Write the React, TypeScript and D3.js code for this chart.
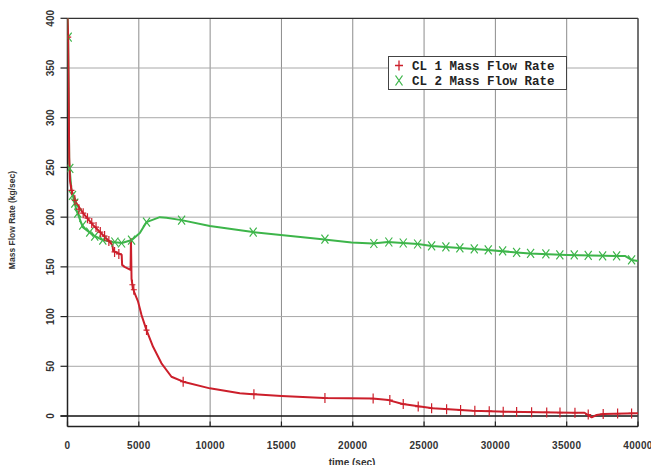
import React from "react";
import * as d3 from "d3";

// ---- data ----
const cl1Time = [0, 40, 80, 120, 180, 280, 630, 1090, 1800, 2380, 2970, 3150, 3200, 3500, 3800, 3830, 4000, 4420, 4450, 4490, 4520, 4600, 4720, 4950, 5190, 5540, 6000, 6590, 7290, 8110, 9980, 12080, 15000, 18000, 21400, 22500, 23500, 25600, 28400, 30800, 33100, 35400, 36250, 36750, 37100, 37560, 39900, 40000];
const cl1Value = [400, 385, 330, 260, 236, 227, 214, 204, 192, 183.5, 175, 172, 166, 164, 162, 152, 150, 147, 178, 138, 135, 128, 123, 115, 101.5, 86.4, 69.6, 53, 39.5, 34.5, 27.8, 22.8, 20, 18, 17.5, 16, 12, 7.7, 5.3, 4.3, 3.7, 3.3, 3.3, -1.3, 1, 2, 2.7, 2.7];

const cl2Time = [0, 40, 80, 120, 160, 280, 630, 1070, 1775, 2475, 3180, 3810, 4510, 5070, 5540, 6470, 6940, 8000, 9980, 13000, 17690, 19920, 21410, 22110, 22460, 24570, 25530, 27510, 29480, 31490, 32420, 35000, 38500, 39080, 39550, 40000];
const cl2Value = [400, 385, 320, 255, 247, 227, 207, 190, 182, 177, 175, 174, 177, 184, 195, 200, 199.5, 197, 191, 185, 178, 174.5, 173.5, 174.5, 175, 173, 171, 169, 167, 164.5, 163.5, 162, 161, 161, 157, 156];

const cl1MarkTime = [50, 280, 520, 800, 1100, 1400, 1700, 2000, 2300, 2600, 2900, 3300, 3600, 4550, 4650, 5540, 8110, 13070, 18050, 21430, 22600, 23540, 24590, 25530, 26580, 27560, 28560, 29570, 30550, 31490, 32540, 33600, 34530, 35580, 36510, 37560, 38570, 39550];
const cl1MarkValue = [381, 227, 217, 208, 204, 199, 194, 190, 185, 181, 176, 165, 163, 132, 127, 86.4, 34.5, 22, 18, 17.5, 16, 12, 9.5, 7.8, 6.8, 6, 5.3, 4.9, 4.4, 4.1, 3.8, 3.6, 3.4, 3.3, 1.5, 2, 2.4, 2.6];

const cl2MarkTime = [50, 160, 350, 510, 720, 1070, 1560, 1910, 2475, 3320, 3790, 4490, 5540, 8000, 13020, 18050, 21480, 22530, 23540, 24550, 25530, 26530, 27510, 28520, 29500, 30510, 31490, 32470, 33540, 34520, 35530, 36510, 37520, 38500, 39550];
const cl2MarkValue = [381, 249, 222, 214, 204, 192, 185, 181, 177, 175, 174, 177, 195, 197, 185, 178, 173.5, 175, 174, 173, 171, 170, 169, 168, 167, 166, 164.5, 163.5, 163, 162, 162, 161.5, 161, 161, 157];

const xTicks = [0, 5000, 10000, 15000, 20000, 25000, 30000, 35000, 40000];
const yTicks = [0, 50, 100, 150, 200, 250, 300, 350, 400];
const seriesNames = ["CL 1 Mass Flow Rate", "CL 2 Mass Flow Rate"];

const RED = "#cc1f2b";
const GREEN = "#3db54a";

export default function App() {
  const W = 651, H = 465;
  const left = 67.5, right = 638, top = 18.3, zeroY = 416, bottom = 426.5;
  const x = d3.scaleLinear().domain([0, 40000]).range([left, right]);
  const y = d3.scaleLinear().domain([0, 400]).range([zeroY, top]);

  const line = d3.line<[number, number]>().x(d => x(d[0])).y(d => y(d[1]));
  const p1 = line(cl1Time.map((t, i) => [t, cl1Value[i]] as [number, number])) || "";
  const p2 = line(cl2Time.map((t, i) => [t, cl2Value[i]] as [number, number])) || "";

  const plus = (cx: number, cy: number, w = 3, h = 5) =>
    `M${cx - w},${cy}H${cx + w}M${cx},${cy - h}V${cy + h}`;
  const cross = (cx: number, cy: number, w = 3.5, h = 4.5) =>
    `M${cx - w},${cy - h}L${cx + w},${cy + h}M${cx + w},${cy - h}L${cx - w},${cy + h}`;

  const font = "'Liberation Sans', Arial, sans-serif";

  return (
    <svg width={W} height={H} style={{ position: "absolute", left: 0, top: 0, background: "#fff" }}>
      <rect x={0} y={0} width={W} height={H} fill="#fff" />
      <defs>
        <clipPath id="plotclip">
          <rect x={left} y={top - 2} width={right - left + 1} height={bottom - top + 2} />
        </clipPath>
      </defs>
      {/* grid */}
      {xTicks.slice(1, -1).map(t => (
        <line key={"gx" + t} x1={x(t)} x2={x(t)} y1={top} y2={bottom} stroke="#8c8c8c" strokeWidth={1} />
      ))}
      {yTicks.slice(1, -1).map(v => (
        <line key={"gy" + v} x1={left} x2={right} y1={y(v)} y2={y(v)} stroke="#a8a8a8" strokeWidth={1} />
      ))}
      {/* zero line */}
      <line x1={left - 7} x2={right} y1={zeroY} y2={zeroY} stroke="#111" strokeWidth={1.3} />
      {/* frame */}
      <line x1={left} x2={right} y1={top} y2={top} stroke="#333" strokeWidth={1.3} />
      <line x1={right} x2={right} y1={top} y2={bottom} stroke="#444" strokeWidth={1.5} />
      <line x1={left} x2={left} y1={top} y2={bottom} stroke="#222" strokeWidth={1.5} />
      <line x1={left} x2={right} y1={bottom} y2={bottom} stroke="#222" strokeWidth={1.5} />
      {/* y ticks */}
      {yTicks.map(v => (
        <line key={"ty" + v} x1={left - 7} x2={left} y1={y(v)} y2={y(v)} stroke="#222" strokeWidth={1.2} />
      ))}
      {/* x ticks */}
      {xTicks.map(t => (
        <line key={"tx" + t} x1={x(t)} x2={x(t)} y1={bottom - 5} y2={bottom} stroke="#222" strokeWidth={1.2} />
      ))}
      {/* y tick labels */}
      {yTicks.map(v => (
        <text key={"ly" + v} transform={`translate(53.5,${y(v)}) rotate(-90)`} textAnchor="middle"
          fontFamily={font} fontSize={10} fontWeight="bold" fill="#333">{v}</text>
      ))}
      {/* x tick labels */}
      {xTicks.map(t => (
        <text key={"lx" + t} x={x(t)} y={449} textAnchor="middle" fontFamily={font} fontSize={10}
          fontWeight="bold" fill="#333" letterSpacing={0.3}>{t}</text>
      ))}
      {/* axis titles */}
      <text x={352} y={466} textAnchor="middle" fontFamily={font} fontSize={10} fontWeight="bold" fill="#333">time (sec)</text>
      <text transform="translate(15,220) rotate(-90)" textAnchor="middle" fontFamily={font} fontSize={8.5}
        fontWeight="bold" fill="#333">Mass Flow Rate (kg/sec)</text>
      {/* series */}
      <g clipPath="url(#plotclip)">
        <path d={p2} fill="none" stroke={GREEN} strokeWidth={2} strokeLinejoin="round" />
        <path d={p1} fill="none" stroke={RED} strokeWidth={2} strokeLinejoin="round" />
        {cl2MarkTime.map((t, i) => (
          <path key={"m2" + i} d={cross(x(t), y(cl2MarkValue[i]))} stroke={GREEN} strokeWidth={1.2} fill="none" />
        ))}
        {cl1MarkTime.map((t, i) => (
          <path key={"m1" + i} d={plus(x(t), y(cl1MarkValue[i]))} stroke={RED} strokeWidth={1.2} fill="none" />
        ))}
      </g>
      {/* legend */}
      <rect x={388.5} y={56.5} width={178} height={33} fill="#fff" stroke="#444" strokeWidth={1} />
      <path d={plus(399, 65.5, 4, 5)} stroke={RED} strokeWidth={1.3} fill="none" />
      <path d={cross(399, 80.5, 3.5, 5)} stroke={GREEN} strokeWidth={1.3} fill="none" />
      <text x={412} y={69.5} fontFamily="'Liberation Mono', 'Courier New', monospace" fontSize={12.5}
        fontWeight="bold" fill="#222">{seriesNames[0]}</text>
      <text x={412} y={84.5} fontFamily="'Liberation Mono', 'Courier New', monospace" fontSize={12.5}
        fontWeight="bold" fill="#222">{seriesNames[1]}</text>
    </svg>
  );
}
